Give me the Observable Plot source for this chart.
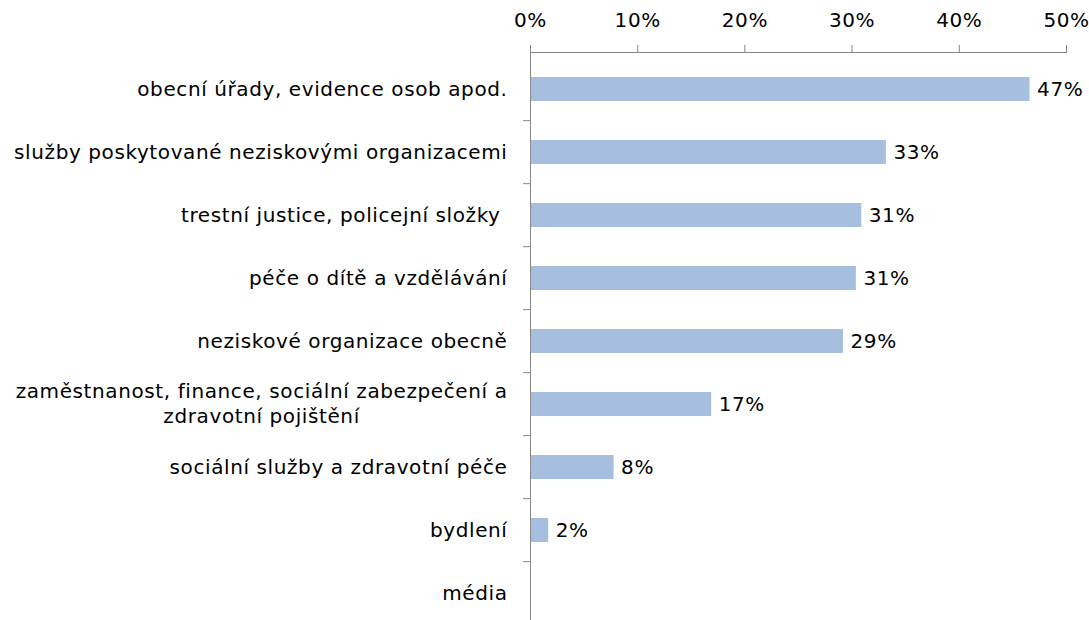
<!DOCTYPE html>
<html>
<head>
<meta charset="utf-8">
<script src="https://cdn.jsdelivr.net/npm/d3@7"></script>
<script src="https://cdn.jsdelivr.net/npm/@observablehq/plot@0.6"></script>
<style>
  html, body { margin: 0; padding: 0; background: #fff; overflow: hidden; }
  svg { overflow: hidden; }
</style>
</head>
<body>
<div id="chart"></div>
<script>
const categories = [
  "obecní úřady, evidence osob apod.",
  "služby poskytované neziskovými organizacemi",
  "trestní justice, policejní složky ",
  "péče o dítě a vzdělávání",
  "neziskové organizace obecně",
  "zaměstnanost, finance, sociální zabezpečení a\nzdravotní pojištění",
  "sociální služby a zdravotní péče",
  "bydlení",
  "média"
];
const values = [46.6, 33.2, 30.9, 30.4, 29.2, 16.9, 7.8, 1.7, 0];
const valueLabels = ["47%", "33%", "31%", "31%", "29%", "17%", "8%", "2%", ""];
const xTicks = [0, 10, 20, 30, 40, 50];

const data = categories.map((c, i) => ({cat: c, value: values[i], label: valueLabels[i]}));

const FONT = "DejaVu Sans, Verdana, sans-serif";
const FS = 20;
const LS = "0.6px";
const LABEL_GAP = 23;

// measure the first line of the wrapped label to centre its second line under it
const ctx = document.createElement("canvas").getContext("2d");
ctx.font = `${FS}px "DejaVu Sans"`;
function measure(s) { return ctx.measureText(s).width + s.length * 0.6; }

const single = [], firstLines = [], secondLines = [];
categories.forEach(c => {
  const lines = c.split("\n");
  if (lines.length === 1) single.push({cat: c, text: lines[0]});
  else {
    firstLines.push({cat: c, text: lines[0], w: measure(lines[0])});
    secondLines.push({cat: c, text: lines[1]});
  }
});
const wrapW = firstLines.length ? firstLines[0].w : 0;

const step = (627 - 54) / categories.length;

const chart = Plot.plot({
  width: 1089,
  height: 620,
  marginLeft: 530,
  marginRight: 23,
  marginTop: 52,
  marginBottom: 0,
  style: {fontFamily: FONT, fontSize: FS + "px", color: "#000", background: "#fff", letterSpacing: LS},
  x: {domain: [0, 50], ticks: xTicks},
  y: {type: "band", domain: categories, range: [54, 627], paddingInner: 0.62, paddingOuter: 0.31, axis: null},
  marks: [
    Plot.barX(data, {y: "cat", x: "value", fill: "#A7BFDE"}),
    Plot.text(data.filter(d => d.label), {y: "cat", x: "value", text: "label", dx: 7, textAnchor: "start", fill: "#000", fontSize: FS}),
    Plot.axisX({anchor: "top", ticks: xTicks, tickFormat: d => d + "%", tickSize: 8, tickPadding: 18, stroke: "#868686", strokeOpacity: 1, fill: "#000", fontSize: FS, label: null}),
    Plot.frame({anchor: "top", stroke: "#868686"}),
    Plot.ruleX([0], {stroke: "#868686"}),
    Plot.ruleY(categories.slice(1), {y: d => d, x1: -0.65, x2: 0, dy: -step / 2, stroke: "#868686"}),
    Plot.text(single, {y: "cat", frameAnchor: "left", text: "text", dx: -LABEL_GAP, textAnchor: "end", fill: "#000", fontSize: FS}),
    Plot.text(firstLines, {y: "cat", frameAnchor: "left", text: "text", dx: -LABEL_GAP, dy: -12.5, textAnchor: "end", fill: "#000", fontSize: FS}),
    Plot.text(secondLines, {y: "cat", frameAnchor: "left", text: "text", dx: -LABEL_GAP - wrapW / 2, dy: 12.5, textAnchor: "middle", fill: "#000", fontSize: FS})
  ]
});
document.getElementById("chart").append(chart);
</script>
</body>
</html>
